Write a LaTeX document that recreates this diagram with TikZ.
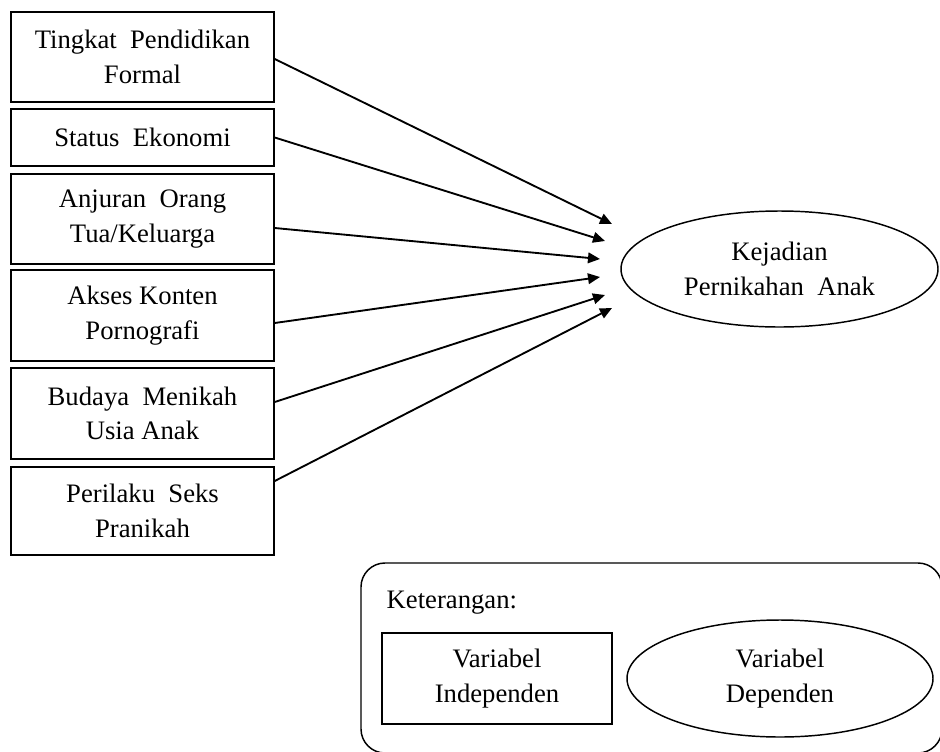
\documentclass[tikz,border=0pt]{standalone}
\usepackage{fontspec}
\setmainfont{Liberation Serif}
\usetikzlibrary{arrows.meta,shapes.geometric,calc}

\tikzset{every picture/.style={line width=1.1pt}}
\tikzset{
  varbox/.style={draw, rectangle, minimum width=197.25pt, align=center, inner sep=0pt,
    font=\fontsize{20}{26}\selectfont},
  varell/.style={draw, ellipse, align=center, inner sep=0pt,
    font=\fontsize{20}{26}\selectfont},
  pengaruh/.style={line width=1.4pt, -{Triangle[length=9pt,width=8pt]}}
}

\begin{document}
\begin{tikzpicture}[x=0.75pt,y=0.75pt,yscale=-1,xscale=1]
\useasboundingbox (0,0) rectangle (940,751);

%Independent variables
\node [varbox, minimum height=67.5pt] (b1) at (142.5,57) {Tingkat\ \ Pendidikan\\Formal};
\node [varbox, minimum height=42.75pt] (b2) at (142.5,137.5) {Status\ \ Ekonomi};
\node [varbox, minimum height=67.5pt] (b3) at (142.5,219) {Anjuran\ \ Orang\\Tua/Keluarga};
\node [varbox, minimum height=68.25pt] (b4) at (142.5,315.5) {Akses Konten\\Pornografi};
\node [varbox, minimum height=68.25pt] (b5) at (142.5,413.5) {Budaya\ \ Menikah\\Usia Anak};
\node [varbox, minimum height=66pt] (b6) at (142.5,511) {Perilaku\ \ Seks\\Pranikah};

%Dependent variable
\node [varell, minimum width=237.75pt, minimum height=87pt] (kejadian) at (779.5,269) {Kejadian\\Pernikahan\ \ Anak};

%Arrow ends
\coordinate (t1) at (612,224);
\coordinate (t2) at (605,241);
\coordinate (t3) at (600,259);
\coordinate (t4) at (600,277);
\coordinate (t5) at (605,295);
\coordinate (t6) at (612,308);

\draw [pengaruh] ($(b1.east)+(0,2)$) -- (t1);
\draw [pengaruh] (b2.east) -- (t2);
\draw [pengaruh] ($(b3.east)+(0,9)$) -- (t3);
\draw [pengaruh] ($(b4.east)+(0,7.5)$) -- (t4);
\draw [pengaruh] ($(b5.east)+(0,-11.5)$) -- (t5);
\draw [pengaruh] ($(b6.east)+(0,-30)$) -- (t6);

%Legend
\draw [rounded corners=18pt] (361,563) rectangle (942,753);
\node [anchor=west, inner sep=0pt, font=\fontsize{20}{26}\selectfont] (ket) at (386,603) {Keterangan:};
\node [varbox, minimum width=172.5pt, minimum height=68.25pt] (lbox) at (497,678.5) {Variabel\\Independen};
\node [varell, minimum width=229.5pt, minimum height=87.75pt] (lell) at (780,678.5) {Variabel\\Dependen};

\end{tikzpicture}
\end{document}
